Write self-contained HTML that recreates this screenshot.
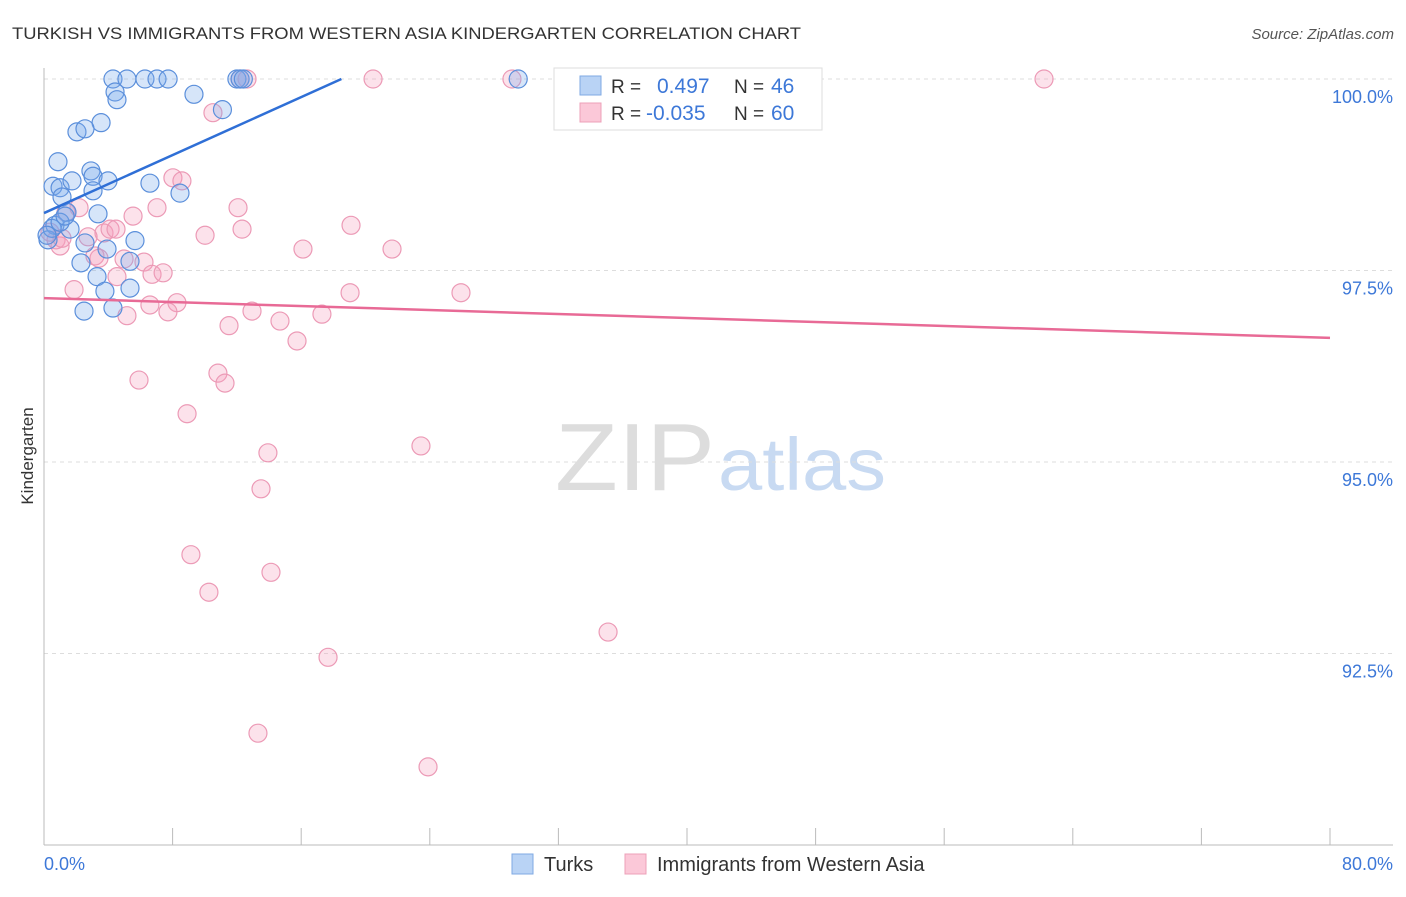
<!DOCTYPE html>
<html><head><meta charset="utf-8"><style>
body{margin:0;background:#fff;font-family:"Liberation Sans",sans-serif;}
svg text{font-family:"Liberation Sans",sans-serif;}
</style></head><body>
<svg width="1406" height="892" xmlns="http://www.w3.org/2000/svg" id="chart">
<text x="12" y="39" font-size="17" fill="#333" textLength="789" lengthAdjust="spacingAndGlyphs">TURKISH VS IMMIGRANTS FROM WESTERN ASIA KINDERGARTEN CORRELATION CHART</text>
<text x="1394" y="39" font-size="15" fill="#555" text-anchor="end" font-style="italic">Source: ZipAtlas.com</text>
<g>
<text x="555" y="490" font-size="96" fill="#ddd" font-family="Liberation Serif" textLength="160" lengthAdjust="spacingAndGlyphs">ZIP</text>
<text x="718" y="490" font-size="74" fill="#c8daf2" textLength="168" lengthAdjust="spacingAndGlyphs">atlas</text>
</g>
<g id="grid"></g>
<g id="axes"></g>
<g id="marks"></g>
<text transform="translate(33,456) rotate(-90)" font-size="17" fill="#333" text-anchor="middle">Kindergarten</text>
<g>
<rect x="554" y="68" width="268" height="62" fill="#fff" stroke="#ddd"/>
<rect x="580" y="76" width="21" height="19" fill="#b9d3f5" stroke="#7fa9e3"/>
<rect x="580" y="103" width="21" height="19" fill="#fbc8d8" stroke="#eda0b8"/>
<text x="611" y="93" font-size="19" fill="#333">R =</text>
<text x="657" y="93" font-size="21" fill="#3d78d8">0.497</text>
<text x="734" y="93" font-size="19" fill="#333">N =</text>
<text x="771" y="93" font-size="21" fill="#3d78d8">46</text>
<text x="611" y="120" font-size="19" fill="#333">R =</text>
<text x="646" y="120" font-size="21" fill="#3d78d8">-0.035</text>
<text x="734" y="120" font-size="19" fill="#333">N =</text>
<text x="771" y="120" font-size="21" fill="#3d78d8">60</text>
</g>
<g>
<rect x="512" y="854" width="21" height="20" fill="#b9d3f5" stroke="#7fa9e3"/>
<text x="544" y="871" font-size="20" fill="#333">Turks</text>
<rect x="625" y="854" width="21" height="20" fill="#fbc8d8" stroke="#eda0b8"/>
<text x="657" y="871" font-size="20" fill="#333">Immigrants from Western Asia</text>
</g>
</svg>
<script>
const yTicks=[100,97.5,95,92.5];
const yTickLabels=["100.0%","97.5%","95.0%","92.5%"];
const xTickLabels=["0.0%","80.0%"];
const blueX=[4.29,5.16,6.28,7.03,7.72,12.0,12.2,12.4,29.5,4.42,4.54,9.33,11.1,3.55,2.05,2.55,0.87,2.92,3.05,0.56,1.0,1.74,3.98,6.59,8.46,1.12,3.05,1.43,3.36,0.68,1.62,0.25,0.5,2.55,3.92,5.66,2.3,5.35,3.3,3.79,5.35,2.49,4.29,1.0,1.31,0.19];
const blueY=[100,100,100,100,100,100,100,100,100,99.83,99.73,99.80,99.60,99.43,99.31,99.35,98.92,98.80,98.73,98.60,98.58,98.67,98.67,98.64,98.51,98.46,98.54,98.26,98.24,98.09,98.04,97.90,98.05,97.86,97.78,97.89,97.60,97.62,97.42,97.23,97.27,96.97,97.01,98.13,98.21,97.96];
const pinkX=[12.19,12.63,20.47,29.11,42.36,62.21,10.51,8.02,8.58,7.03,12.07,5.54,2.18,1.37,19.10,12.32,10.02,3.73,4.11,4.48,16.11,21.65,0.75,1.0,3.17,4.98,6.22,6.72,7.41,4.54,1.87,19.04,25.94,6.59,8.27,7.71,12.94,5.16,11.51,14.68,17.29,15.74,5.91,10.82,11.26,8.90,23.45,13.93,13.50,9.14,14.12,10.26,35.09,17.67,13.31,23.89,0.37,1.12,2.74,3.42];
const pinkY=[100,100,100,100,100,100,99.56,98.71,98.67,98.32,98.32,98.21,98.32,98.26,98.09,98.04,97.96,97.99,98.04,98.04,97.78,97.78,97.90,97.82,97.69,97.65,97.61,97.45,97.47,97.42,97.25,97.21,97.21,97.05,97.08,96.96,96.97,96.91,96.78,96.84,96.93,96.58,96.07,96.16,96.03,95.63,95.21,95.12,94.65,93.79,93.56,93.30,92.78,92.45,91.46,91.02,98.00,97.92,97.94,97.66];
const blueTrendX=[0,18.5], blueTrendY=[98.25,100];
const pinkTrendX=[0,80], pinkTrendY=[97.14,96.62];

const NS="http://www.w3.org/2000/svg";
const X=v=>44+v*(1286/80);
const Y=v=>79+(100-v)*76.6;
function mk(tag,attrs,parent){const e=document.createElementNS(NS,tag);for(const k in attrs)e.setAttribute(k,attrs[k]);parent.appendChild(e);return e;}
const grid=document.getElementById('grid'),axes=document.getElementById('axes'),marks=document.getElementById('marks');
yTicks.forEach((t,i)=>{
 const l=mk('line',{x1:44,x2:1393,y1:Y(t),y2:Y(t),stroke:'#ddd','stroke-dasharray':'4,4'},grid);
 
 
 const tx=mk('text',{x:1393,y:Y(t)+24,'font-size':18,fill:'#3d78d8','text-anchor':'end'},axes);
 tx.textContent=yTickLabels[i];
 
 
});
const ya=mk('line',{x1:44,x2:44,y1:68,y2:845,stroke:'#bbb'},axes);


const xa=mk('line',{x1:44,x2:1393,y1:845,y2:845,stroke:'#bbb'},axes);


for(let i=0;i<=10;i++){
 const t=mk('line',{x1:X(i*8),x2:X(i*8),y1:828,y2:845,stroke:'#bbb'},axes);
 
 
}
[[0,'start',44],[80,'end',1393]].forEach((a,i)=>{
 const tx=mk('text',{x:a[2],y:870,'font-size':18,fill:'#3d78d8','text-anchor':a[1]},axes);
 tx.textContent=xTickLabels[i];
 
 
});
pinkX.forEach((v,i)=>{
 const c=mk('circle',{cx:X(v),cy:Y(pinkY[i]),r:9,fill:'rgba(244,160,188,0.3)',stroke:'#ec9ab6','stroke-width':1.2},marks);
 
 
});
blueX.forEach((v,i)=>{
 const c=mk('circle',{cx:X(v),cy:Y(blueY[i]),r:9,fill:'rgba(120,170,235,0.3)',stroke:'#5b8fdb','stroke-width':1.2},marks);
 
 
});
const bt=mk('line',{x1:X(blueTrendX[0]),y1:Y(blueTrendY[0]),x2:X(blueTrendX[1]),y2:Y(blueTrendY[1]),stroke:'#2f6fd6','stroke-width':2.5},marks);


const pt=mk('line',{x1:X(pinkTrendX[0]),y1:Y(pinkTrendY[0]),x2:X(pinkTrendX[1]),y2:Y(pinkTrendY[1]),stroke:'#e86a96','stroke-width':2.5},marks);


</script>
</body></html>
